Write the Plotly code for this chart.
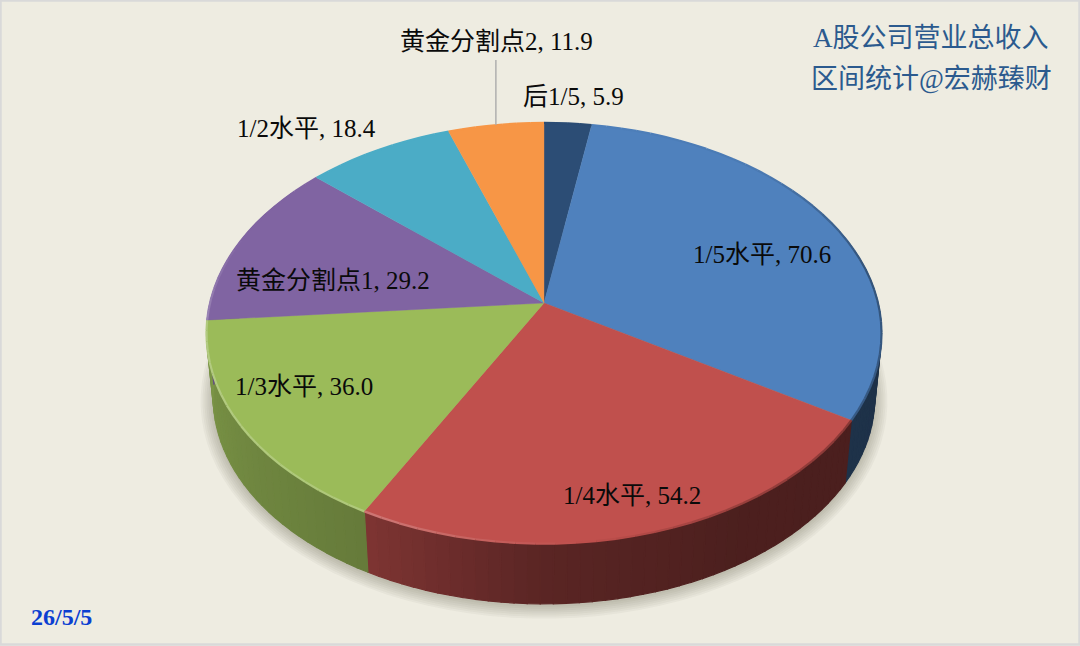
import numpy as np
import plotly.graph_objects as go

labels = ["后1/5", "1/5水平", "1/4水平", "1/3水平", "黄金分割点1", "1/2水平", "黄金分割点2"]
values = [5.9, 70.6, 54.2, 36.0, 29.2, 18.4, 11.9]
colors = ["#2C4D75", "#4F81BD", "#C0504D", "#9BBB59", "#8064A2", "#4BACC6", "#F79646"]
label_pos = [(573, 96), (762, 254), (632, 495), (304, 386), (333, 280), (306, 128), (496, 41)]
chart_title = ["A股公司营业总收入", "区间统计@宏赫臻财"]
date_text = "26/5/5"

FONT = "Liberation Serif, Noto Sans CJK SC"
CX, CY, RX, RY, K = 544, 303, 334, 206, 0.144
DROP, SHRINK = 65, 0.98


def top_xy(deg):
    a = np.radians(deg)
    d = 1 + K * np.cos(a)
    return CX + RX * np.sin(a) / d, CY - RY * np.cos(a) / d


def bottom_xy(deg):
    x, y = top_xy(deg)
    return CX + SHRINK * (x - CX), CY + SHRINK * (y - CY) + DROP


def shade(hex_color, f):
    rgb = [int(hex_color[i:i + 2], 16) for i in (1, 3, 5)]
    if f <= 1:
        out = [int(c * f) for c in rgb]
    else:
        out = [int(c + (255 - c) * (f - 1)) for c in rgb]
    return "rgb(%d,%d,%d)" % tuple(out)


def poly(fig, xs, ys, fill, line=None, width=1.2):
    fig.add_trace(go.Scatter(x=xs, y=ys, mode="lines", fill="toself", fillcolor=fill,
                             line=dict(color=line or fill, width=width), hoverinfo="skip"))


bounds = np.concatenate([[0], np.cumsum(values) / np.sum(values) * 360])
fig = go.Figure()

# soft shadow under the pie
ring = np.linspace(40, 320, 90)
for grow in [13, 11, 9, 7, 5, 3, 1]:
    bx, by = bottom_xy(ring)
    sx = CX + (bx - CX) * (1 + grow / 340)
    sy = CY + 65 + (by - CY - 65) * (1 + grow / 240) + 2
    poly(fig, sx, sy, "rgba(60,60,50,0.045)", "rgba(0,0,0,0)", 0)

# side wall, thin quads so the shading can run along the rim
for i, c in enumerate(colors):
    lo, hi = max(bounds[i], 55), min(bounds[i + 1], 305)
    if lo >= hi:
        continue
    steps = np.linspace(lo, hi, int((hi - lo) / 2) + 2)
    for a0, a1 in zip(steps[:-1], steps[1:]):
        f = np.interp((a0 + a1) / 2, [90, 150, 180, 208, 265], [0.38, 0.40, 0.47, 0.66, 0.80])
        ts = np.array([a0, a1])
        tx, ty = top_xy(ts)
        bx, by = bottom_xy(ts)
        poly(fig, [tx[0], tx[1], bx[1], bx[0], tx[0]], [ty[0], ty[1], by[1], by[0], ty[0]], shade(c, f))

# top slices
for i, c in enumerate(colors):
    ts = np.linspace(bounds[i], bounds[i + 1], max(int(bounds[i + 1] - bounds[i]), 2) + 1)
    ex, ey = top_xy(ts)
    poly(fig, np.r_[CX, ex, CX], np.r_[CY, ey, CY], c, width=0.4)

# bevel along the rim
for i, c in enumerate(colors):
    steps = np.linspace(bounds[i], bounds[i + 1], int((bounds[i + 1] - bounds[i]) / 3) + 2)
    for a0, a1 in zip(steps[:-1], steps[1:]):
        mid = (a0 + a1) / 2
        f = np.interp(mid, [0, 45, 80, 120, 150, 175, 205, 215, 260, 290, 330],
                      [1.0, 0.95, 0.65, 0.7, 0.8, 1.0, 1.22, 1.2, 1.25, 1.0, 1.0])
        ts = np.array([a0, a1])
        ex, ey = top_xy(ts)
        fig.add_trace(go.Scatter(x=ex, y=ey, mode="lines", hoverinfo="skip",
                                 line=dict(color=shade(c, f), width=2.2)))

# leader for the 黄金分割点2 label
mid_gold = (bounds[6] + bounds[7]) / 2
lx, ly = top_xy(mid_gold)
fig.add_trace(go.Scatter(x=[lx, lx], y=[ly, 60], mode="lines", hoverinfo="skip",
                         line=dict(color="#ABABAB", width=1.4)))

for name, v, (x, y) in zip(labels, values, label_pos):
    fig.add_annotation(x=x, y=y, text=f"{name}, {v:.1f}", showarrow=False,
                       font=dict(family=FONT, size=25, color="#0A0A0A"))

for line, y in zip(chart_title, [38, 79]):
    fig.add_annotation(x=931, y=y, text=line, showarrow=False,
                       font=dict(family=FONT, size=27, color="#2B5A8E"))
fig.add_annotation(x=61, y=617, text=f"<b>{date_text}</b>", showarrow=False,
                   font=dict(family=FONT, size=24, color="#0B3FD1"))

fig.add_shape(type="rect", x0=0.5, x1=1079.5, y0=0.5, y1=644.5, line=dict(color="#D9D9D9", width=2.5))
fig.update_layout(width=1080, height=646, margin=dict(l=0, r=0, t=0, b=0), showlegend=False,
                  paper_bgcolor="#EEECE1", plot_bgcolor="#EEECE1",
                  xaxis=dict(range=[0, 1080], visible=False, fixedrange=True),
                  yaxis=dict(range=[646, 0], visible=False, fixedrange=True))
fig.write_html("out.html", config=dict(displayModeBar=False),
               post_script="document.body.style.margin='0';")
